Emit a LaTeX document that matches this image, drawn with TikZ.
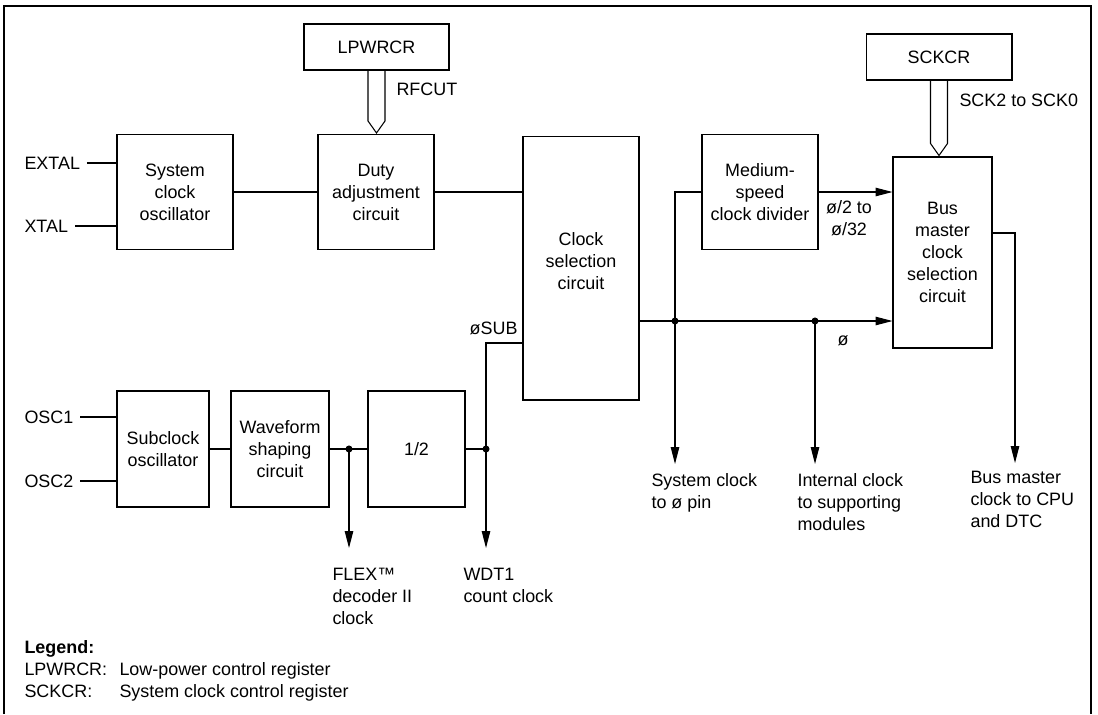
\documentclass[tikz,border=0pt]{standalone}
\usepackage{fontspec}
\setmainfont{Liberation Sans}
\usetikzlibrary{arrows.meta,calc}

\begin{document}
\begin{tikzpicture}[x=0.02cm,y=-0.02cm,line width=0.6pt,
 font=\fontsize{10.2}{12.5}\selectfont,
 box/.style={draw,align=center,inner sep=1pt},
 lbl/.style={align=left,inner sep=0pt},
 arr/.style={-{Triangle[length=0.34cm,width=0.17cm]}},
 dot/.style={circle,fill,inner sep=0pt,minimum size=4pt}]
\useasboundingbox (0,0) rectangle (1098,714);
\draw (4,714) |- (1091,6) -- (1091,714);
% registers
\node[box,minimum width=2.9cm,minimum height=0.92cm] (lpwrcr) at (376.5,47) {LPWRCR};
\node[box,minimum width=2.92cm,minimum height=0.92cm] (sckcr) at (939,57) {SCKCR};
% main clock path
\node[box,minimum width=2.32cm,minimum height=2.3cm] (sysosc) at (175,192) {System\\clock\\oscillator};
\node[box,minimum width=2.32cm,minimum height=2.3cm] (duty) at (376,192) {Duty\\adjustment\\circuit};
\node[box,minimum width=2.32cm,minimum height=5.28cm,text depth=0.28cm] (clksel) at (581,268) {Clock\\selection\\circuit};
\node[box,minimum width=2.32cm,minimum height=2.3cm] (medium) at (760,192) {Medium-\\speed\\clock divider};
\node[box,minimum width=1.98cm,minimum height=3.82cm] (busmaster) at (942.5,252.5) {Bus\\master\\clock\\selection\\circuit};
% subclock path
\node[box,minimum width=1.84cm,minimum height=2.32cm] (subosc) at (163,449) {Subclock\\oscillator};
\node[box,minimum width=1.96cm,minimum height=2.32cm] (wave) at (280,449) {Waveform\\shaping\\circuit};
\node[box,minimum width=1.94cm,minimum height=2.32cm] (half) at (416.5,449) {1/2};
% pins and labels
\node[lbl,anchor=west] (extal) at (24,163) {EXTAL};
\node[lbl,anchor=west] (xtal) at (24,226) {XTAL};
\node[lbl,anchor=west] (osc1) at (24,417) {OSC1};
\node[lbl,anchor=west] (osc2) at (24,481) {OSC2};
\node[lbl,anchor=west] (rfcut) at (396,89) {RFCUT};
\node[lbl,anchor=west] (sckbits) at (959,100) {SCK2 to SCK0};
\node[lbl,anchor=base east] (phisub) at (518,334.5) {øSUB};
\node[lbl,anchor=base] (phi) at (843,345) {ø};
\node[lbl,align=center] (phidiv) at (849,218) {ø/2 to\\ø/32};
\node[lbl,anchor=north west] (flex) at (332,568) {FLEX™\\decoder II\\clock};
\node[lbl,anchor=north west] (wdt) at (463,568) {WDT1\\count clock};
\node[lbl,anchor=north west] (syspin) at (651,473) {System clock\\to ø pin};
\node[lbl,anchor=north west] (internal) at (797,473) {Internal clock\\to supporting\\modules};
\node[lbl,anchor=north west] (cpu) at (970,471) {Bus master\\clock to CPU\\and DTC};
% legend
\node[lbl,anchor=base west,font=\fontsize{10.2}{12.5}\selectfont\bfseries] (legend) at (24,653.5) {Legend:};
\node[lbl,anchor=base west] (leglp) at (24,675.5) {LPWRCR:};
\node[lbl,anchor=base west] (legsck) at (24,697.5) {SCKCR:};
\node[lbl,anchor=base west] (leglptxt) at (119,675.5) {Low-power control register};
\node[lbl,anchor=base west] (legscktxt) at (119,697.5) {System clock control register};
% junctions and arrow ends
\coordinate (jsys) at (675,321);
\coordinate (jint) at (815,321);
\coordinate (jflex) at (349,449);
\coordinate (jsub) at (486,449);
\coordinate (tsys) at (675,464);
\coordinate (tint) at (815,464);
\coordinate (tbus) at (1015,463);
\coordinate (tflex) at (349,548);
\coordinate (tsub) at (486,548);
% connections
\foreach \pin in {extal,xtal}
  \draw ($(\pin.east)+(6.5,0)$) -- (\pin.east -| sysosc.west);
\foreach \pin in {osc1,osc2}
  \draw ($(\pin.east)+(6.5,0)$) -- (\pin.east -| subosc.west);
\draw (sysosc) -- (duty);
\draw (duty) -- (duty.east -| clksel.west);
\draw[arr] (jsys -| clksel.east) -- (jsys -| busmaster.west);
\draw (jsys) |- (medium.west);
\draw[arr] (medium.east) -- (medium.east -| busmaster.west);
\draw[arr] (jsys) -- (tsys);
\draw[arr] (jint) -- (tint);
\draw[arr] ($(busmaster.east)+(0,-19.5)$) -| (tbus);
\draw (subosc) -- (wave);
\draw (wave) -- (half);
\draw (half) -- (jsub);
\draw[arr] (jflex) -- (tflex);
\draw[arr] ($(clksel.west)+(0,75)$) -| (tsub);
\foreach \j in {jsys,jint,jflex,jsub}
  \node[dot] at (\j) {};
% register buses
\foreach \src/\dst in {lpwrcr/duty,sckcr/busmaster}
  \draw ($(\src.south)+(-8.5,0)$) -- ($(\src.south |- \dst.north)+(-8.5,-13)$)
    -- ($(\src.south |- \dst.north)+(0,-1)$) -- ($(\src.south |- \dst.north)+(8.5,-13)$)
    -- ($(\src.south)+(8.5,0)$);
\end{tikzpicture}
\end{document}
